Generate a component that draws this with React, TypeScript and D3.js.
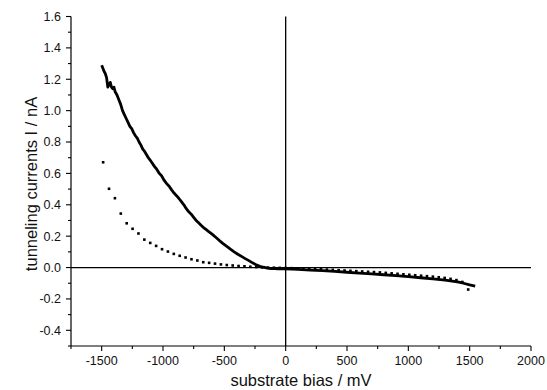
import * as d3 from 'd3';

// solid curve: substrate bias (mV) vs tunneling current (nA)
const solidBias = [
  -1500, -1490, -1480, -1470, -1460, -1450, -1445, -1440, -1430, -1420, -1410, -1400, -1390, -1375, -1360,
  -1345, -1330, -1315, -1300, -1285, -1270, -1255, -1240, -1225, -1210, -1195, -1180, -1165, -1150, -1135,
  -1120, -1105, -1090, -1070, -1050, -1030, -1010, -990, -970, -950, -930, -910, -890, -870, -850, -830,
  -810, -790, -770, -750, -730, -710, -690, -670, -650, -630, -600, -570, -540, -510, -480, -450, -420,
  -390, -360, -330, -300, -270, -240, -210, -180, -150, -120, -90, -60, -30, 0, 100, 200, 300, 400, 500,
  600, 700, 800, 900, 1000, 1100, 1200, 1300, 1400, 1450, 1500, 1545,
];
const solidCurrent = [
  1.29, 1.27, 1.25, 1.235, 1.21, 1.15, 1.17, 1.16, 1.18, 1.15, 1.14, 1.15, 1.12, 1.1, 1.07,
  1.04, 1.0, 0.975, 0.95, 0.925, 0.9, 0.885, 0.86, 0.84, 0.825, 0.8, 0.78, 0.755, 0.74, 0.72,
  0.7, 0.685, 0.668, 0.645, 0.625, 0.6, 0.583, 0.555, 0.535, 0.518, 0.495, 0.475, 0.458, 0.44, 0.42, 0.4,
  0.375, 0.355, 0.34, 0.32, 0.3, 0.285, 0.27, 0.255, 0.243, 0.231, 0.213, 0.193, 0.172, 0.153, 0.135, 0.117, 0.1,
  0.085, 0.071, 0.057, 0.044, 0.03, 0.017, 0.008, 0.002, -0.003, -0.006, -0.007, -0.008, -0.008, -0.009, -0.012, -0.016, -0.02, -0.025, -0.03,
  -0.035, -0.04, -0.046, -0.052, -0.058, -0.065, -0.072, -0.08, -0.092, -0.1, -0.11, -0.118,
];

// dotted series
const dotBias = [
  -1488, -1440, -1392, -1344, -1296, -1248, -1200, -1152, -1104, -1056, -1008, -960, -912, -864, -816, -768,
  -720, -672, -624, -576, -528, -480, -432, -384, -336, -288, -240, -192, -144, -96, -48, 0,
  48, 96, 144, 192, 240, 288, 336, 384, 432, 480, 528, 576, 624, 672, 720, 768,
  816, 864, 912, 960, 1008, 1056, 1104, 1152, 1200, 1248, 1296, 1344, 1392, 1440, 1488,
];
const dotCurrent = [
  0.671, 0.502, 0.442, 0.344, 0.282, 0.247, 0.217, 0.178, 0.157, 0.138, 0.117, 0.102, 0.087, 0.075, 0.064, 0.053,
  0.045, 0.034, 0.03, 0.025, 0.02, 0.016, 0.013, 0.01, 0.008, 0.005, 0.003, 0.001, 0.0, -0.001, -0.002, -0.003,
  -0.004, -0.005, -0.006, -0.008, -0.009, -0.011, -0.013, -0.015, -0.017, -0.019, -0.021, -0.023, -0.025, -0.027, -0.029, -0.031,
  -0.034, -0.037, -0.04, -0.043, -0.046, -0.049, -0.052, -0.055, -0.058, -0.062, -0.066, -0.072, -0.08, -0.092, -0.14,
];

const xMajor = [-1500, -1000, -500, 0, 500, 1000, 1500, 2000];
const xMinor = [-1750, -1250, -750, -250, 250, 750, 1250, 1750];
const yMajor = [-0.4, -0.2, 0.0, 0.2, 0.4, 0.6, 0.8, 1.0, 1.2, 1.4, 1.6];
const yMinor = [-0.5, -0.3, -0.1, 0.1, 0.3, 0.5, 0.7, 0.9, 1.1, 1.3, 1.5];

const W = 547;
const H = 390;
const left = 71;
const right = 531;
const top = 16.5;
const bottom = 346;
const font = 'Arial, "Liberation Sans", sans-serif';

export default function App() {
  const x = d3.scaleLinear().domain([-1750, 2000]).range([left, right]);
  const y = d3.scaleLinear().domain([-0.5, 1.6]).range([bottom, top]);

  const solid = solidBias.map((b, i) => [b, solidCurrent[i]] as [number, number]);
  const dots = dotBias.map((b, i) => [b, dotCurrent[i]] as [number, number]);
  const line = d3.line<[number, number]>().x((d) => x(d[0])).y((d) => y(d[1]));

  return (
    <svg width={W} height={H} style={{ position: 'absolute', left: 0, top: 0, background: '#fff' }}>
      <rect width={W} height={H} fill="#fff" />
      {/* zero lines */}
      <line x1={left} x2={right} y1={y(0)} y2={y(0)} stroke="#000" strokeWidth={1.3} />
      <line x1={x(0)} x2={x(0)} y1={top} y2={bottom} stroke="#000" strokeWidth={1.3} />

      {/* data */}
      <path d={line(solid) ?? ''} fill="none" stroke="#000" strokeWidth={2.8} strokeLinejoin="round" />
      {dots.map((d, i) => (
        <rect key={i} x={x(d[0]) - 1.3} y={y(d[1]) - 1.3} width={2.6} height={2.6} fill="#000" />
      ))}

      {/* y axis */}
      <line x1={left} x2={left} y1={top} y2={bottom} stroke="#000" strokeWidth={1.2} />
      {yMajor.map((v) => (
        <g key={'ym' + v}>
          <line x1={left - 5} x2={left} y1={y(v)} y2={y(v)} stroke="#000" strokeWidth={1.1} />
          <text x={left - 10} y={y(v)} dy="0.35em" textAnchor="end" fontSize={12.5} fontFamily={font} fill="#111">
            {v.toFixed(1)}
          </text>
        </g>
      ))}
      {yMinor.map((v) => (
        <line key={'yn' + v} x1={left - 3} x2={left} y1={y(v)} y2={y(v)} stroke="#000" strokeWidth={1.1} />
      ))}

      {/* x axis */}
      <line x1={left} x2={right} y1={bottom} y2={bottom} stroke="#000" strokeWidth={1.2} />
      {xMajor.map((v) => (
        <g key={'xm' + v}>
          <line x1={x(v)} x2={x(v)} y1={bottom} y2={bottom + 5} stroke="#000" strokeWidth={1.1} />
          <text x={x(v)} y={bottom + 19} textAnchor="middle" fontSize={12.5} fontFamily={font} fill="#111">
            {String(v)}
          </text>
        </g>
      ))}
      {xMinor.map((v) => (
        <line key={'xn' + v} x1={x(v)} x2={x(v)} y1={bottom} y2={bottom + 3} stroke="#000" strokeWidth={1.1} />
      ))}

      {/* titles */}
      <text x={(left + right) / 2} y={386} textAnchor="middle" fontSize={16.5} fontFamily={font} fill="#111">
        substrate bias / mV
      </text>
      <text
        transform={`translate(37,184) rotate(-90)`}
        textAnchor="middle"
        fontSize={16.5}
        fontFamily={font}
        fill="#111"
      >
        tunneling currents I / nA
      </text>
    </svg>
  );
}
